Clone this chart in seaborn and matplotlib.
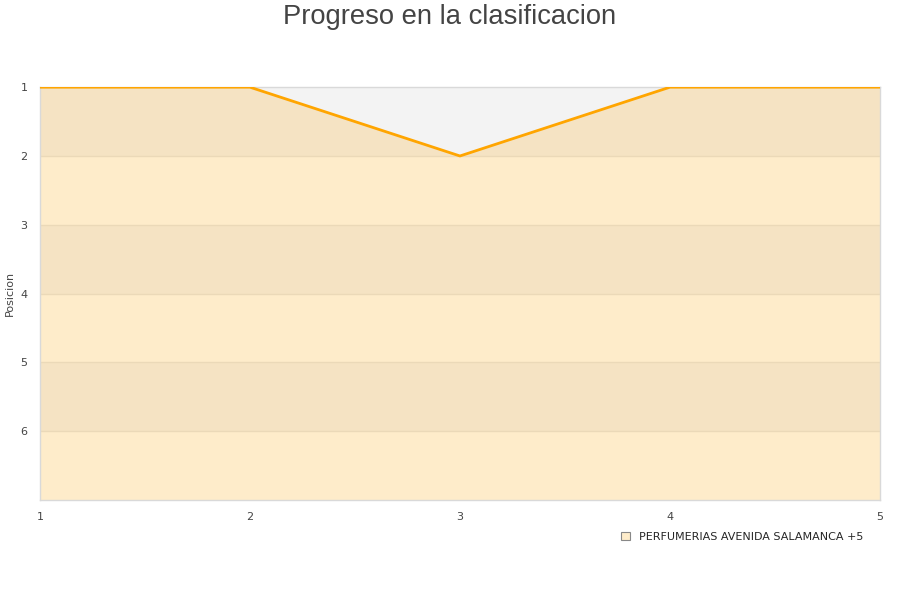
import matplotlib
matplotlib.use("Agg")
import matplotlib.pyplot as plt
import seaborn as sns
import pandas as pd
from matplotlib.patches import Patch

jornadas = [1, 2, 3, 4, 5]
posiciones = [1, 1, 2, 1, 1]
equipo = "PERFUMERIAS AVENIDA SALAMANCA +5"
y_ticks = [1, 2, 3, 4, 5, 6]

df = pd.DataFrame({"Jornada": jornadas, "Posicion": posiciones})

sns.set_style("white")
fig = plt.figure(figsize=(9, 6), dpi=100)
ax = fig.add_axes([0.0444, 0.1667, 0.9333, 0.688])

# alternating bands
for i in range(1, 7):
    col = "#f5e3c3" if i % 2 == 1 else "#feecca"
    ax.axhspan(i, i + 1, color=col, lw=0, zorder=0)
    if i > 1:
        ax.axhline(i, color="#ebd9b8", lw=1, zorder=1)

# light grey area between top and the line
ax.fill_between(df["Jornada"], 1, df["Posicion"], color="#f3f3f3", lw=0, zorder=2)

sns.lineplot(data=df, x="Jornada", y="Posicion", color="#ffa500", lw=2, ax=ax, zorder=3)

ax.set_xlim(1, 5)
ax.set_ylim(7, 1)
ax.set_xticks(jornadas)
ax.set_yticks(y_ticks)
ax.tick_params(axis="both", length=0, labelsize=8, colors="#444444")
ax.tick_params(axis="x", pad=9)
ax.tick_params(axis="y", pad=9)
ax.set_xlabel("")
ax.set_ylabel("")
for s in ax.spines.values():
    s.set_color("#d9d9d9")
    s.set_linewidth(1)

fig.text(10 / 900, 1 - 293 / 600, "Posicion", rotation=90, fontsize=8,
         color="#444444", ha="center", va="center")

fig.suptitle("Progreso en la clasificacion", fontsize=19.7, color="#444444",
             family="Liberation Sans", y=0.994)

handle = Patch(facecolor="#feecca", edgecolor="#888888", lw=0.8)
fig.legend([handle], [equipo], loc="center", bbox_to_anchor=(0.825, 0.105),
           frameon=False, fontsize=8, handlelength=0.8, handleheight=0.8,
           handletextpad=0.8)

plt.savefig("out.png", dpi=100)
